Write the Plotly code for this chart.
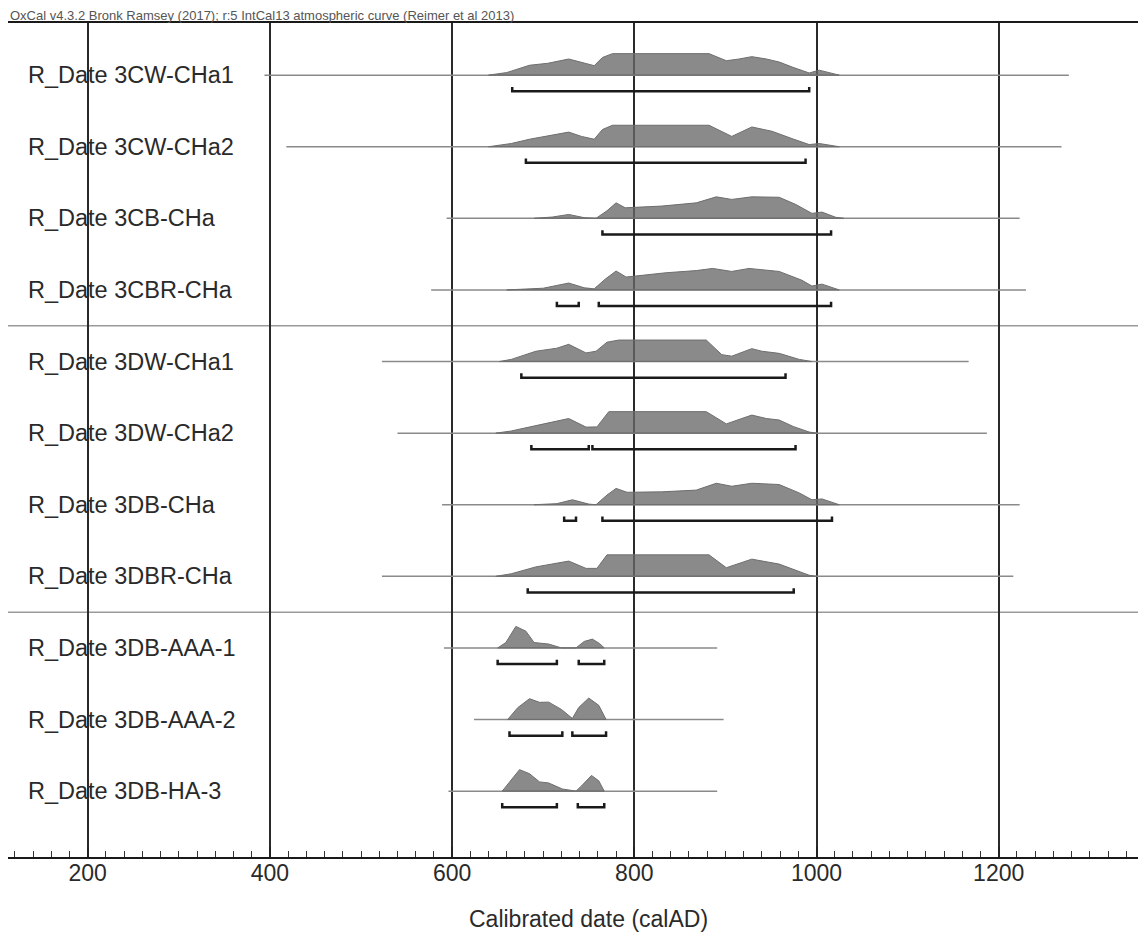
import plotly.graph_objects as go

# ---------------- data ----------------
labels = ["R_Date 3CW-CHa1", "R_Date 3CW-CHa2", "R_Date 3CB-CHa", "R_Date 3CBR-CHa",
          "R_Date 3DW-CHa1", "R_Date 3DW-CHa2", "R_Date 3DB-CHa", "R_Date 3DBR-CHa",
          "R_Date 3DB-AAA-1", "R_Date 3DB-AAA-2", "R_Date 3DB-HA-3"]

# extent of the calibrated (thin) line for each date, calAD
line_start = [394, 418, 594, 577, 523, 540, 589, 523, 591, 624, 596]
line_end = [1277, 1269, 1223, 1230, 1167, 1187, 1223, 1216, 891, 898, 891]

# probability distributions (relative to max)
yrs1 = [640, 660, 685, 705, 728, 740, 756, 765, 776, 882, 901, 915, 929, 945, 959, 975, 992, 1003, 1014, 1025]
p1 = [0, 0.12, 0.46, 0.55, 0.75, 0.62, 0.44, 0.82, 1.0, 1.0, 0.67, 0.75, 0.86, 0.75, 0.61, 0.35, 0.1, 0.23, 0.12, 0]
yrs2 = [640, 665, 685, 705, 728, 742, 756, 765, 776, 882, 907, 929, 951, 975, 992, 1003, 1014, 1025]
p2 = [0, 0.15, 0.35, 0.5, 0.68, 0.48, 0.35, 0.8, 1.0, 1.0, 0.48, 0.92, 0.72, 0.35, 0.1, 0.15, 0.08, 0]
yrs3 = [690, 710, 728, 745, 758, 770, 780, 790, 830, 868, 890, 907, 929, 959, 977, 995, 1006, 1021, 1030]
p3 = [0, 0.06, 0.18, 0.03, 0.0, 0.35, 0.72, 0.49, 0.57, 0.72, 1.0, 0.88, 1.0, 0.98, 0.65, 0.23, 0.29, 0.05, 0]
yrs4 = [660, 700, 728, 745, 756, 768, 780, 791, 835, 868, 886, 907, 926, 959, 984, 995, 1006, 1025]
p4 = [0, 0.08, 0.32, 0.1, 0.05, 0.5, 0.88, 0.6, 0.8, 0.9, 1.0, 0.86, 1.0, 0.86, 0.45, 0.18, 0.27, 0]
yrs5 = [652, 665, 692, 715, 728, 747, 758, 770, 783, 879, 896, 907, 929, 940, 959, 981, 995]
p5 = [0, 0.1, 0.48, 0.62, 0.8, 0.4, 0.48, 0.9, 1.0, 1.0, 0.32, 0.25, 0.6, 0.48, 0.38, 0.1, 0]
yrs6 = [648, 665, 692, 728, 747, 759, 772, 879, 901, 929, 945, 959, 975, 992, 1000]
p6 = [0, 0.1, 0.35, 0.68, 0.28, 0.29, 1.0, 1.0, 0.43, 0.84, 0.68, 0.61, 0.3, 0.05, 0]
yrs7 = [690, 715, 732, 750, 758, 770, 780, 792, 830, 868, 890, 907, 929, 959, 981, 995, 1006, 1025]
p7 = [0, 0.05, 0.23, 0.03, 0.0, 0.45, 0.76, 0.58, 0.6, 0.68, 1.0, 0.86, 1.0, 0.94, 0.55, 0.23, 0.27, 0]
yrs8 = [648, 665, 692, 728, 747, 759, 770, 882, 901, 929, 959, 975, 992, 1000]
p8 = [0, 0.12, 0.44, 0.71, 0.37, 0.37, 1.0, 1.0, 0.4, 0.8, 0.57, 0.3, 0.05, 0]
yrs9 = [650, 659, 670, 681, 690, 706, 720, 736, 745, 754, 762, 767]
p9 = [0, 0.25, 1.0, 0.78, 0.25, 0.18, 0, 0, 0.3, 0.41, 0.2, 0]
yrs10 = [661, 672, 685, 696, 706, 720, 732, 739, 750, 761, 769]
p10 = [0, 0.55, 0.97, 0.8, 0.81, 0.47, 0.05, 0.56, 1.0, 0.66, 0]
yrs11 = [655, 664, 674, 685, 696, 706, 721, 736, 742, 753, 761, 767]
p11 = [0, 0.5, 1.0, 0.81, 0.43, 0.38, 0.1, 0, 0.24, 0.73, 0.48, 0]

dist_years = [yrs1, yrs2, yrs3, yrs4, yrs5, yrs6, yrs7, yrs8, yrs9, yrs10, yrs11]
dist_probs = [p1, p2, p3, p4, p5, p6, p7, p8, p9, p10, p11]

# 95.4% highest posterior density ranges
ranges = [
    [(666, 992)],
    [(681, 988)],
    [(765, 1016)],
    [(715, 739), (761, 1016)],
    [(676, 966)],
    [(687, 750), (754, 977)],
    [(723, 736), (765, 1017)],
    [(683, 975)],
    [(650, 715), (739, 767)],
    [(663, 721), (732, 769)],
    [(655, 715), (738, 767)],
]

group_breaks = [3.5, 7.5]  # separators between groups of rows

tick_labels = [200, 400, 600, 800, 1000, 1200]

# ---------------- figure ----------------
PEAK = 0.30      # height of distribution maximum in row units
BR_OFF = 0.225   # bracket offset below baseline
BR_H = 0.06      # bracket end tick height
FONT = "Arial, Liberation Sans"

fig = go.Figure()
for i, lab in enumerate(labels):
    base = -i
    # thin baseline
    fig.add_trace(go.Scatter(x=[line_start[i], line_end[i]], y=[base, base], mode="lines",
                             line=dict(color="#8a8a8a", width=1.5), hoverinfo="skip", showlegend=False))
    # distribution
    xs = list(dist_years[i]) + [dist_years[i][-1], dist_years[i][0]]
    ys = [base + PEAK * p for p in dist_probs[i]] + [base, base]
    fig.add_trace(go.Scatter(x=xs, y=ys, mode="lines", fill="toself",
                             fillcolor="rgba(105,105,105,0.78)",
                             line=dict(color="#6e6e6e", width=1), hoverinfo="skip", showlegend=False))
    # ranges
    bx, by = [], []
    for s, e in ranges[i]:
        yb = base - BR_OFF
        bx += [s, s, e, e, None]
        by += [yb + BR_H, yb, yb, yb + BR_H, None]
    fig.add_trace(go.Scatter(x=bx, y=by, mode="lines", line=dict(color="#1a1a1a", width=2.5),
                             hoverinfo="skip", showlegend=False))
    fig.add_annotation(x=0.016, xref="paper", y=base, yref="y", text=lab, showarrow=False,
                       xanchor="left", yanchor="middle", yshift=0,
                       font=dict(family=FONT, size=23.5, color="#2a2a2a"))

for g in group_breaks:
    fig.add_shape(type="line", xref="paper", x0=0, x1=1, yref="y", y0=-g, y1=-g,
                  line=dict(color="#9a9a9a", width=1.5), layer="below")

fig.add_annotation(x=0.0, xref="paper", y=1.0, yref="paper", yanchor="bottom", xanchor="left",
                   yshift=-2, showarrow=False,
                   text="OxCal v4.3.2 Bronk Ramsey (2017); r:5 IntCal13 atmospheric curve (Reimer et al 2013)",
                   font=dict(family=FONT, size=13, color="#555555"))
fig.add_annotation(x=0.51, xref="paper", y=-0.074, yref="paper", yanchor="middle", xanchor="center",
                   showarrow=False, text="Calibrated date (calAD)",
                   font=dict(family=FONT, size=23, color="#2a2a2a"))

fig.update_layout(
    width=1138, height=925,
    margin=dict(l=0, r=0, t=15, b=76),
    paper_bgcolor="white", plot_bgcolor="white",
    xaxis=dict(range=[112.5, 1361.7], tickmode="array", tickvals=tick_labels,
               ticktext=[str(t) for t in tick_labels],
               ticks="inside", ticklen=10, tickcolor="#222", tickwidth=1.5,
               showgrid=True, gridcolor="#2a2a2a", gridwidth=1.5,
               showline=True, linecolor="#1a1a1a", linewidth=2, mirror=True,
               zeroline=False, ticklabelstandoff=-6,
               tickfont=dict(family=FONT, size=23, color="#2a2a2a"),
               minor=dict(tickmode="linear", tick0=0, dtick=20, ticks="inside", ticklen=6,
                          tickcolor="#333", tickwidth=1, showgrid=False)),
    yaxis=dict(range=[-10.92, 0.728], showgrid=False, zeroline=False, showticklabels=False,
               ticks="", showline=True, linecolor="#1a1a1a", linewidth=2, mirror=False),
)

fig.write_html("out.html")
